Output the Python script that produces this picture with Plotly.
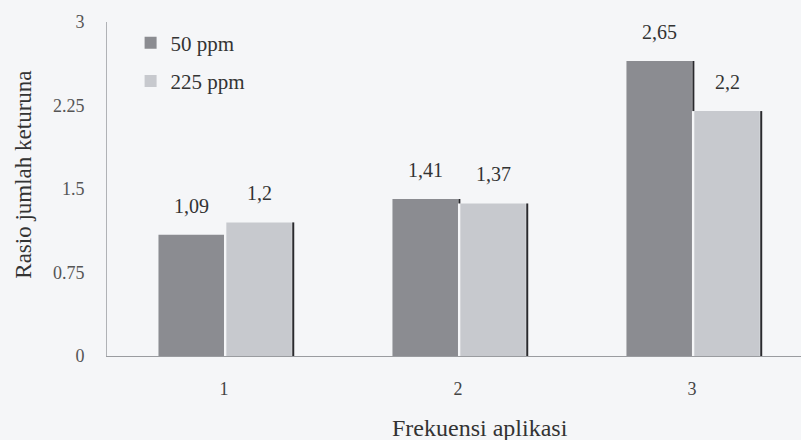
import plotly.graph_objects as go

categories = [1, 2, 3]
tick_labels = ["1", "2", "3"]
series_names = ["50 ppm", "225 ppm"]
values_50 = [1.09, 1.41, 2.65]
values_225 = [1.2, 1.37, 2.2]
y_ticks = [0, 0.75, 1.5, 2.25, 3]

BW = 0.28
FONT = "Liberation Serif"
dark = "#8b8c91"
light = "#c7c9ce"

fig = go.Figure()
fig.add_trace(go.Bar(x=categories, y=values_50, name=series_names[0], width=BW, offset=-BW,
                     marker=dict(color=dark, line=dict(width=0)), legendgroup="a"))
fig.add_trace(go.Bar(x=categories, y=values_225, name=series_names[1], width=BW, offset=0.01,
                     marker=dict(color=light, line=dict(width=0)), legendgroup="b"))

# dark edge lines (shadow) on the right of bars
lx, ly = [], []
for c, a, b in zip(categories, values_50, values_225):
    lx += [c + BW + 0.016, c + BW + 0.016, None]
    ly += [0, b, None]
    if a > b:
        lx += [c + 0.006, c + 0.006, None]
        ly += [b, a, None]
fig.add_trace(go.Scatter(x=lx, y=ly, mode="lines", line=dict(color="#2a2a2e", width=2),
                         showlegend=False, hoverinfo="skip"))

for c, a, b in zip(categories, values_50, values_225):
    for v, dx in ((a, -BW / 2), (b, BW / 2 + 0.01)):
        fig.add_annotation(x=c + dx, y=v, text=f"{v:g}".replace(".", ","), showarrow=False,
                           yshift=29, yanchor="middle",
                           font=dict(family=FONT, size=20, color="#333"))

fig.add_annotation(x=0.5375, y=-0.215, xref="paper", yref="paper", text="Frekuensi aplikasi",
                   showarrow=False, yanchor="middle",
                   font=dict(family=FONT, size=24, color="#333"))
fig.add_annotation(x=-0.12, y=0.542, xref="paper", yref="paper", text="Rasio jumlah keturuna",
                   showarrow=False, textangle=-90, xanchor="center", yanchor="middle",
                   font=dict(family=FONT, size=23, color="#333"))

fig.update_layout(
    width=801, height=440,
    margin=dict(l=107, r=0, t=22, b=84),
    paper_bgcolor="#f5f6f8", plot_bgcolor="#f5f6f8",
    font=dict(family=FONT, color="#444"),
    showlegend=True,
    legend=dict(x=0.034, y=0.998, xanchor="left", yanchor="top", bgcolor="rgba(0,0,0,0)",
                font=dict(family=FONT, size=21, color="#333"), tracegroupgap=8,
                traceorder="grouped"),
    xaxis=dict(range=[0.5, 3.466], tickvals=categories, ticktext=tick_labels,
               showgrid=False, zeroline=False, showline=True, linecolor="#9a9ca0", linewidth=1,
               ticks="", ticklabelstandoff=16, tickfont=dict(family=FONT, size=18, color="#444")),
    yaxis=dict(range=[0, 3], tickvals=y_ticks, ticktext=["0", "0.75", "1.5", "2.25", "3"],
               showgrid=False, zeroline=False, showline=True, linecolor="#b0b2b6", linewidth=1,
               ticks="", ticklabelstandoff=18, tickfont=dict(family=FONT, size=18, color="#555")),
)

fig.write_html("out.html", config={"displayModeBar": False},
               post_script="document.body.style.margin='0';")
